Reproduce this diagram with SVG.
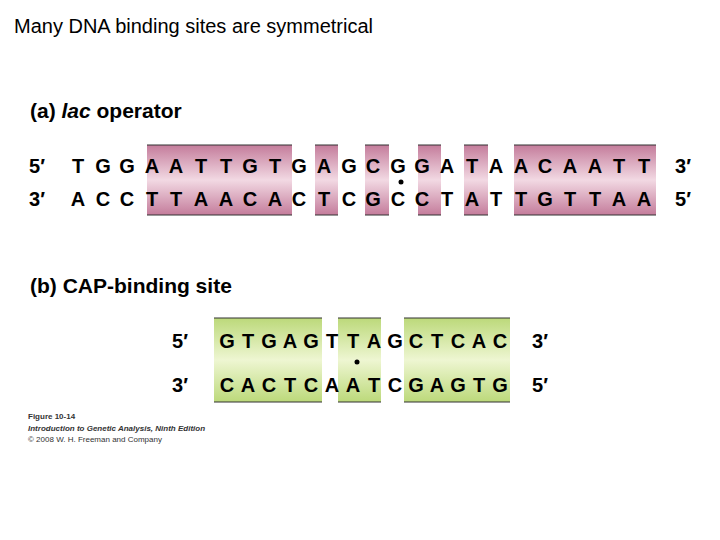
<svg xmlns="http://www.w3.org/2000/svg" width="720" height="540" viewBox="0 0 720 540">
<style>
.t{font-family:"Liberation Sans",Arial,sans-serif}
.h{font-family:"Liberation Sans",Arial,sans-serif;font-weight:bold;font-size:21px}
.s text,text.s{font-family:"Liberation Sans",Arial,sans-serif;font-weight:bold;font-size:20px;text-anchor:middle}
.p{fill:url(#pk)}
.g{fill:url(#gr)}
.e{stroke:#333;stroke-width:1.2}
.c{font-family:"Liberation Sans",Arial,sans-serif;font-size:8px;fill:#333}
</style>
<defs>
<linearGradient id="pk" x1="0" y1="0" x2="0" y2="1">
<stop offset="0" stop-color="#c47c9b"/><stop offset="0.5" stop-color="#f2d9e3"/><stop offset="1" stop-color="#c47c9b"/>
</linearGradient>
<linearGradient id="gr" x1="0" y1="0" x2="0" y2="1">
<stop offset="0" stop-color="#bcd97a"/><stop offset="0.5" stop-color="#eef6d2"/><stop offset="1" stop-color="#bcd97a"/>
</linearGradient>
</defs>
<text class="t" x="14" y="33" font-size="20">Many DNA binding sites are symmetrical</text>
<g id="lac">
<text class="h" x="30" y="118">(a)  <tspan font-style="italic">lac</tspan> operator</text>
<rect class="p" x="147" y="145" width="145" height="70"/>
<rect class="p" x="315" y="145" width="23" height="70"/>
<rect class="p" x="365" y="145" width="24" height="70"/>
<rect class="p" x="418" y="145" width="23" height="70"/>
<rect class="p" x="464" y="145" width="24" height="70"/>
<rect class="p" x="514" y="145" width="142" height="70"/>
<path class="e" d="M147 145H292M315 145H338M365 145H389M418 145H441M464 145H488M514 145H656M147 215H292M315 215H338M365 215H389M418 215H441M464 215H488M514 215H656"/>
<g class="s">
<text x="37" y="173">5′</text><text x="37" y="206">3′</text>
<text x="683" y="173">3′</text><text x="683" y="206">5′</text>
<text x="78" y="173">T</text><text x="103" y="173">G</text><text x="127" y="173">G</text><text x="152" y="173">A</text><text x="176" y="173">A</text><text x="201" y="173">T</text><text x="226" y="173">T</text><text x="250" y="173">G</text><text x="275" y="173">T</text><text x="299" y="173">G</text><text x="324" y="173">A</text><text x="349" y="173">G</text><text x="373" y="173">C</text><text x="398" y="173">G</text><text x="422" y="173">G</text><text x="447" y="173">A</text><text x="472" y="173">T</text><text x="496" y="173">A</text><text x="521" y="173">A</text><text x="545" y="173">C</text><text x="570" y="173">A</text><text x="595" y="173">A</text><text x="619" y="173">T</text><text x="644" y="173">T</text>
<text x="78" y="206">A</text><text x="103" y="206">C</text><text x="127" y="206">C</text><text x="152" y="206">T</text><text x="176" y="206">T</text><text x="201" y="206">A</text><text x="226" y="206">A</text><text x="250" y="206">C</text><text x="275" y="206">A</text><text x="299" y="206">C</text><text x="324" y="206">T</text><text x="349" y="206">C</text><text x="373" y="206">G</text><text x="398" y="206">C</text><text x="422" y="206">C</text><text x="447" y="206">T</text><text x="472" y="206">A</text><text x="496" y="206">T</text><text x="521" y="206">T</text><text x="545" y="206">G</text><text x="570" y="206">T</text><text x="595" y="206">T</text><text x="619" y="206">A</text><text x="644" y="206">A</text>
</g>
<circle cx="401" cy="182" r="2.5" fill="#000"/>
</g>
<g id="cap">
<text class="h" x="30" y="293">(b)  CAP-binding site</text>
<rect class="g" x="214" y="318" width="108" height="84"/>
<rect class="g" x="338" y="318" width="43" height="84"/>
<rect class="g" x="404" y="318" width="106" height="84"/>
<path class="e" d="M214 318H322M338 318H381M404 318H510M214 402H322M338 402H381M404 402H510"/>
<g class="s">
<text x="180" y="348">5′</text><text x="180" y="392">3′</text>
<text x="540" y="348">3′</text><text x="540" y="392">5′</text>
<text x="227" y="348">G</text><text x="248" y="348">T</text><text x="269" y="348">G</text><text x="290" y="348">A</text><text x="311" y="348">G</text><text x="332" y="348">T</text><text x="353" y="348">T</text><text x="374" y="348">A</text><text x="395" y="348">G</text><text x="416" y="348">C</text><text x="437" y="348">T</text><text x="458" y="348">C</text><text x="479" y="348">A</text><text x="500" y="348">C</text>
<text x="227" y="392">C</text><text x="248" y="392">A</text><text x="269" y="392">C</text><text x="290" y="392">T</text><text x="311" y="392">C</text><text x="332" y="392">A</text><text x="353" y="392">A</text><text x="374" y="392">T</text><text x="395" y="392">C</text><text x="416" y="392">G</text><text x="437" y="392">A</text><text x="458" y="392">G</text><text x="479" y="392">T</text><text x="500" y="392">G</text>
</g>
<circle cx="357" cy="362" r="2.5" fill="#000"/>
</g>
<text class="c" x="28" y="419" font-weight="bold">Figure 10-14</text>
<text class="c" x="28" y="431" font-style="italic" font-weight="bold">Introduction to Genetic Analysis, Ninth Edition</text>
<text class="c" x="28" y="442">© 2008 W. H. Freeman and Company</text>
</svg>
